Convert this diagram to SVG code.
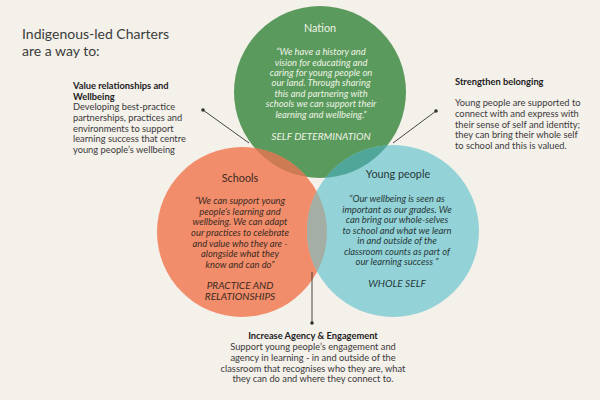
<svg xmlns="http://www.w3.org/2000/svg" width="600" height="400" viewBox="0 0 600 400">
<style>
text{font-family:Lato,"Open Sans","Liberation Sans",sans-serif}
.title{font-size:14px;fill:#3b3d3a}
.side{font-size:9.3px;fill:#3a3a3a}
.bold{font-weight:bold;fill:#222}
.head{font-size:10.8px;text-anchor:middle}
.quote{font-size:9.4px;font-style:italic;text-anchor:middle}
.tag{font-size:10.1px;font-style:italic;text-anchor:middle}
.light{fill:#eef3e6}
.dark{fill:#3b2a22}
.darkb{fill:#263838}
.conn{stroke:#333;stroke-width:0.9;fill:none}
.dot{fill:#333}
</style>
<defs>
<clipPath id="cg"><circle cx="320" cy="92" r="86"/></clipPath>
<clipPath id="co"><circle cx="242" cy="232" r="85"/></clipPath>
</defs>
<rect width="600" height="400" fill="#f4f0ea"/>
<text class="title" x="22" y="39">Indigenous-led Charters</text>
<text class="title" x="22" y="56">are a way to:</text>

<g id="nation">
<circle cx="320" cy="92" r="86" fill="#5b9a5d"/>
</g>
<g id="schools">
<circle cx="242" cy="232" r="85" fill="#f18d6b"/>
<circle cx="242" cy="232" r="85" fill="#cd7b53" clip-path="url(#cg)"/>
</g>
<g id="young-people">
<circle cx="393" cy="231" r="86" fill="#93d2d7"/>
<circle cx="393" cy="231" r="86" fill="#4fa699" clip-path="url(#cg)"/>
<circle cx="393" cy="231" r="86" fill="#a4aea4" clip-path="url(#co)"/>
</g>

<g id="nation-text">
<text class="head light" x="320" y="32">Nation</text>
<text class="quote light" x="321" y="55">“We have a history and</text>
<text class="quote light" x="321" y="66">vision for educating and</text>
<text class="quote light" x="321" y="76">caring for young people on</text>
<text class="quote light" x="321" y="86">our land. Through sharing</text>
<text class="quote light" x="321" y="97">this and partnering with</text>
<text class="quote light" x="321" y="107">schools we can support their</text>
<text class="quote light" x="321" y="118">learning and wellbeing.”</text>
<text class="tag light" x="321" y="140">SELF DETERMINATION</text>
</g>

<g id="schools-text">
<text class="head dark" x="240" y="182">Schools</text>
<text class="quote dark" x="240" y="204">“We can support young</text>
<text class="quote dark" x="240" y="215">people’s learning and</text>
<text class="quote dark" x="240" y="225">wellbeing. We can adapt</text>
<text class="quote dark" x="240" y="236">our practices to celebrate</text>
<text class="quote dark" x="240" y="247">and value who they are -</text>
<text class="quote dark" x="240" y="257">alongside what they</text>
<text class="quote dark" x="240" y="268">know and can do”</text>
<text class="tag dark" x="240" y="289">PRACTICE AND</text>
<text class="tag dark" x="240" y="300">RELATIONSHIPS</text>
</g>

<g id="young-people-text">
<text class="head darkb" x="398" y="178">Young people</text>
<text class="quote darkb" x="397" y="202">“Our wellbeing is seen as</text>
<text class="quote darkb" x="397" y="213">important as our grades. We</text>
<text class="quote darkb" x="397" y="223">can bring our whole-selves</text>
<text class="quote darkb" x="397" y="234">to school and what we learn</text>
<text class="quote darkb" x="397" y="244">in and outside of the</text>
<text class="quote darkb" x="397" y="255">classroom counts as part of</text>
<text class="quote darkb" x="397" y="265">our learning success ”</text>
<text class="tag darkb" x="397" y="287">WHOLE SELF</text>
</g>

<g id="connectors">
<line class="conn" x1="203" y1="110" x2="249" y2="143"/>
<circle class="dot" cx="203" cy="110" r="1.8"/>
<line class="conn" x1="436" y1="111" x2="393" y2="143"/>
<circle class="dot" cx="436" cy="111" r="1.8"/>
<line class="conn" x1="312" y1="272" x2="312" y2="323"/>
<circle class="dot" cx="312" cy="323" r="1.8"/>
</g>

<g id="value-relationships">
<text class="side bold" x="73" y="89">Value relationships and</text>
<text class="side bold" x="73" y="99.5">Wellbeing</text>
<text class="side" x="73" y="110">Developing best-practice</text>
<text class="side" x="73" y="121">partnerships, practices and</text>
<text class="side" x="73" y="131.5">environments to support</text>
<text class="side" x="73" y="142">learning success that centre</text>
<text class="side" x="73" y="152.5">young people’s wellbeing</text>
</g>

<g id="strengthen-belonging">
<text class="side bold" x="455" y="85">Strengthen belonging</text>
<text class="side" x="455" y="106">Young people are supported to</text>
<text class="side" x="455" y="117">connect with and express with</text>
<text class="side" x="455" y="127.5">their sense of self and identity;</text>
<text class="side" x="455" y="138">they can bring their whole self</text>
<text class="side" x="455" y="149">to school and this is valued.</text>
</g>

<g id="increase-agency">
<text class="side bold" x="313" y="339" text-anchor="middle">Increase Agency &amp; Engagement</text>
<text class="side" x="313" y="350" text-anchor="middle">Support young people’s engagement and</text>
<text class="side" x="313" y="361" text-anchor="middle">agency in learning - in and outside of the</text>
<text class="side" x="313" y="371.5" text-anchor="middle">classroom that recognises who they are, what</text>
<text class="side" x="313" y="382" text-anchor="middle">they can do and where they connect to.</text>
</g>
</svg>
